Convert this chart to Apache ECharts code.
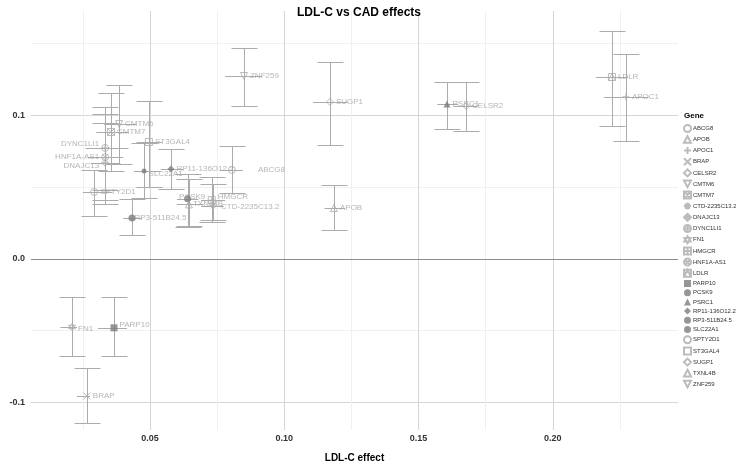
<!DOCTYPE html>
<html><head><meta charset="utf-8">
<script src="https://cdn.jsdelivr.net/npm/echarts@6/dist/echarts.min.js"></script>
<style>html,body{margin:0;padding:0;background:#fff}#c{width:736px;height:464px}</style>
</head><body><div id="c"></div>
<script>
// ---- data ----
const genes = ['ABCG8','APOB','APOC1','BRAP','CELSR2','CMTM6','CMTM7','CTD-2235C13.2','DNAJC13','DYNC1LI1','FN1','HMGCR','HNF1A-AS1','LDLR','PARP10','PCSK9','PSRC1','RP11-136O12.2','RP3-511B24.5','SLC22A1','SPTY2D1','ST3GAL4','SUGP1','TXNL4B','ZNF259'];
const ldlEffect = [0.0805,0.1185,0.2272,0.0265,0.1677,0.0385,0.0355,0.0735,0.0333,0.0333,0.0210,0.0730,0.0333,0.2220,0.0366,0.0640,0.1606,0.0578,0.0433,0.0478,0.0292,0.0496,0.1170,0.0645,0.0850];
const ldlLow    = [0.0760,0.1150,0.2190,0.0228,0.1630,0.0330,0.0300,0.0690,0.0280,0.0260,0.0166,0.0690,0.0270,0.2160,0.0306,0.0600,0.1570,0.0540,0.0400,0.0440,0.0250,0.0450,0.1107,0.0600,0.0780];
const ldlHigh   = [0.0846,0.1226,0.2356,0.0277,0.1720,0.0450,0.0420,0.0775,0.0390,0.0420,0.0228,0.0780,0.0400,0.2280,0.0414,0.0680,0.1647,0.0623,0.0470,0.0540,0.0360,0.0545,0.1237,0.0700,0.0917];
const cadEffect = [0.0620,0.0355,0.1130,-0.0955,0.1066,0.0940,0.0885,0.0370,0.0670,0.0774,-0.0474,0.0410,0.0710,0.1268,-0.0480,0.0420,0.1080,0.0627,0.0286,0.0613,0.0467,0.0815,0.1094,0.0380,0.1275];
const cadLow    = [0.0460,0.0202,0.0822,-0.1140,0.0892,0.0660,0.0610,0.0270,0.0380,0.0480,-0.0676,0.0260,0.0410,0.0927,-0.0676,0.0225,0.0906,0.0488,0.0167,0.0425,0.0300,0.0500,0.0794,0.0230,0.1066];
const cadHigh   = [0.0787,0.0516,0.1429,-0.0760,0.1233,0.1210,0.1160,0.0520,0.0950,0.1060,-0.0265,0.0570,0.1010,0.1590,-0.0265,0.0590,0.1233,0.0767,0.0420,0.0810,0.0620,0.1100,0.1370,0.0557,0.1470];
const xTicks = [0.05, 0.10, 0.15, 0.20];
const xMinorTicks = [0.025, 0.075, 0.125, 0.175, 0.225];
const yTicks = [-0.1, 0.0, 0.1];
const yMinorTicks = [-0.05, 0.05, 0.15];

// ---- styles ----
const GREY = '#ababab', DARK = '#7c7c7c';
const C = 'A9,9,0,1,1,9.99,1Z';
const shapes = [
  {p:'path://M10,1'+C, fill:false},
  {p:'path://M10,1L19,18L1,18Z', fill:false},
  {p:'path://M10,0L10,20M0,10L20,10', fill:false},
  {p:'path://M1,1L19,19M19,1L1,19', fill:false},
  {p:'path://M10,0L20,10L10,20L0,10Z', fill:false},
  {p:'path://M1,2L19,2L10,19Z', fill:false},
  {p:'path://M1,1L19,1L19,19L1,19ZM1,1L19,19M19,1L1,19', fill:false},
  {p:'path://M10,0L10,20M0,10L20,10M3,3L17,17M17,3L3,17', fill:false},
  {p:'path://M10,0L20,10L10,20L0,10ZM10,0L10,20M0,10L20,10', fill:false},
  {p:'path://M10,1'+C+'M10,1L10,19M1,10L19,10', fill:false},
  {p:'path://M10,0L19,15L1,15ZM10,20L1,5L19,5Z', fill:false},
  {p:'path://M1,1L19,1L19,19L1,19ZM10,1L10,19M1,10L19,10', fill:false},
  {p:'path://M10,1'+C+'M3.6,3.6L16.4,16.4M16.4,3.6L3.6,16.4', fill:false},
  {p:'path://M1,1L19,1L19,19L1,19ZM1,19L10,1L19,19', fill:false},
  {p:'rect', fill:true},
  {p:'circle', fill:true},
  {p:'triangle', fill:true},
  {p:'diamond', fill:true},
  {p:'circle', fill:true},
  {p:'circle', fill:true, small:true},
  {p:'path://M10,1'+C, fill:false},
  {p:'path://M1,1L19,1L19,19L1,19Z', fill:false},
  {p:'path://M10,0L20,10L10,20L0,10Z', fill:false},
  {p:'path://M10,1L19,18L1,18Z', fill:false},
  {p:'path://M1,2L19,2L10,19Z', fill:false}
];
const labelLeft = {'DYNC1LI1':1,'HNF1A-AS1':1,'DNAJC13':1};
const labelOffset = {'ABCG8':[20,0],'PCSK9':[-14,-2],'FN1':[0,2],'HMGCR':[0,-3],'CTD-2235C13.2':[2,1],
  'TXNL4B':[-2,-1],'DYNC1LI1':[0,-4],'DNAJC13':[0,3],'PARP10':[0,-3],'SLC22A1':[0,3],'RP3-511B24.5':[-3,0]};

const ebData = genes.map((g,i)=>[ldlEffect[i], cadEffect[i], ldlLow[i], ldlHigh[i], cadLow[i], cadHigh[i]]);

const chart = echarts.init(document.getElementById('c'), null, {renderer:'canvas'});
const FONT = 'Liberation Sans, Arial, sans-serif';

function r(v){return Math.round(v)+0.5;}
const series = [{
  type:'custom', name:'eb', z:1, silent:true,
  data: ebData,
  renderItem(params, api){
    const x=api.value(0), y=api.value(1);
    const lo=api.coord([x,api.value(4)]), hi=api.coord([x,api.value(5)]);
    const l=api.coord([api.value(2),y]), h=api.coord([api.value(3),y]);
    const cap=13, st={stroke:GREY, lineWidth:1};
    const vx=r(lo[0]);
    return {type:'group', children:[
      {type:'line', shape:{x1:vx,y1:r(lo[1]),x2:vx,y2:r(hi[1])}, style:st},
      {type:'line', shape:{x1:vx-cap,y1:r(lo[1]),x2:vx+cap,y2:r(lo[1])}, style:st},
      {type:'line', shape:{x1:vx-cap,y1:r(hi[1]),x2:vx+cap,y2:r(hi[1])}, style:st},
      {type:'line', shape:{x1:l[0],y1:r(l[1]),x2:h[0],y2:r(h[1])}, style:st}
    ]};
  },
  markLine:{silent:true, symbol:'none', label:{show:false},
    lineStyle:{color:'#8c8c8c', width:1, type:'solid'}, data:[{yAxis:0}]}
}];
genes.forEach((g,i)=>{
  const s = shapes[i];
  series.push({
    type:'scatter', name:g, z:3,
    symbol:s.p, symbolSize: s.small ? 5 : 7,
    itemStyle:{color: s.fill ? DARK : 'rgba(0,0,0,0)', borderColor: s.fill ? DARK : GREY, borderWidth: s.fill?0:1},
    label:{show:true, formatter:g, position: labelLeft[g]?'left':'right', distance:2,
      offset: labelOffset[g]||[0,0], color:'#a4a4a4', fontSize:8, fontFamily:FONT},
    data:[[ldlEffect[i], cadEffect[i]]]
  });
});

const axisCommon = { axisLine:{show:false} };
chart.setOption({
  animation:false,
  backgroundColor:'#fff',
  title:[
    {text:'LDL-C vs CAD effects', left:354, top:2, textAlign:'center',
     textStyle:{fontFamily:FONT, fontSize:12, fontWeight:'bold', color:'#000'}},
    {text:'Gene', left:684, top:112, padding:0, textStyle:{fontFamily:FONT, fontSize:8, fontWeight:'bold', color:'#000'}}
  ],
  grid:{left:31, right:58, top:11, bottom:34, outerBoundsMode:'none'},
  legend:{orient:'vertical', left:683, top:124, padding:0, itemWidth:7, itemHeight:7, itemGap:2.2,
    data:genes, selectedMode:false,
    textStyle:{fontFamily:FONT, fontSize:6, color:'#333', padding:[0,0,0,-3]}},
  xAxis:[
    Object.assign({type:'value', min:0.0057, max:0.2466,
      name:'LDL-C effect', nameLocation:'middle', nameGap:23,
      nameTextStyle:{fontFamily:FONT, fontSize:10, fontWeight:'bold', color:'#000'},
      axisLabel:{customValues:xTicks, formatter:v=>v.toFixed(2), fontFamily:FONT, fontSize:9, fontWeight:'bold', color:'#333', margin:4},
      axisTick:{show:false, customValues:xTicks},
      splitLine:{show:true, lineStyle:{color:'#d6d6d6', width:1}}}, axisCommon),
    Object.assign({type:'value', min:0.0057, max:0.2466, position:'bottom',
      axisLabel:{show:false},
      axisTick:{show:false, customValues:xMinorTicks},
      splitLine:{show:true, lineStyle:{color:'#f0f0f0', width:1}}}, axisCommon)
  ],
  yAxis:[
    Object.assign({type:'value', min:-0.1192, max:0.1728,
      name:'CAD log(OR)', nameLocation:'middle', nameGap:25, nameRotate:90,
      nameTextStyle:{fontFamily:FONT, fontSize:10, fontWeight:'bold', color:'#000'},
      axisLabel:{customValues:yTicks, formatter:v=>v.toFixed(1), fontFamily:FONT, fontSize:9, fontWeight:'bold', color:'#333', margin:6},
      axisTick:{show:false, customValues:yTicks},
      splitLine:{show:true, lineStyle:{color:'#d6d6d6', width:1}}}, axisCommon),
    Object.assign({type:'value', min:-0.1192, max:0.1728, position:'left',
      axisLabel:{show:false},
      axisTick:{show:false, customValues:yMinorTicks},
      splitLine:{show:true, lineStyle:{color:'#f0f0f0', width:1}}}, axisCommon)
  ],
  series: series
});
</script></body></html>
